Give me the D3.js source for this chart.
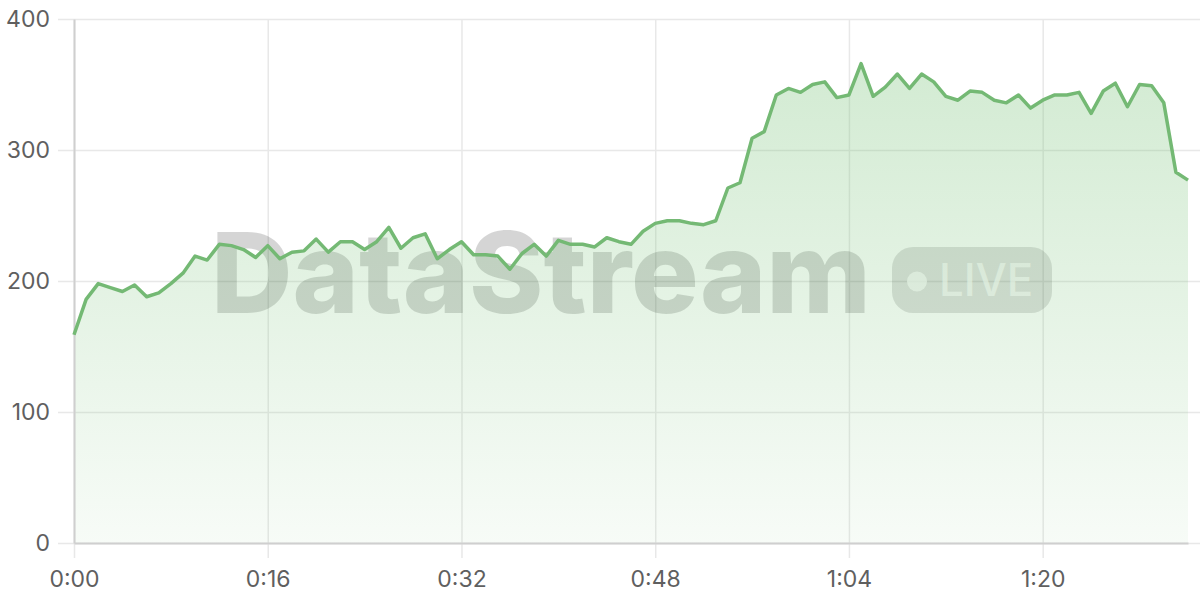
<!DOCTYPE html>
<html>
<head>
<meta charset="utf-8">
<script src="https://cdn.jsdelivr.net/npm/d3@7"></script>
<style>
  body { margin: 0; background: #fff; }
  svg { display: block; font-family: Inter, "Noto Sans", sans-serif; }
</style>
</head>
<body>
<svg id="chart" width="1200" height="600"></svg>
<script>
// minutes since start, one reading per minute
const minutes = d3.range(0, 93);
const viewers = [
  159, 186, 198, 195, 192, 197, 188, 191, 198, 206,
  219, 216, 228, 227, 224, 218, 227, 217, 222, 223,
  232, 222, 230, 230, 224, 230, 241, 225, 233, 236,
  217, 224, 230, 220, 220, 219, 209, 221, 228, 219,
  231, 228, 228, 226, 233, 230, 228, 238, 244, 246,
  246, 244, 243, 246, 271, 275, 309, 314, 342, 347,
  344, 350, 352, 340, 342, 366, 341, 348, 358, 347,
  358, 352, 341, 338, 345, 344, 338, 336, 342, 332,
  338, 342, 342, 344, 328, 345, 351, 333, 350, 349,
  336, 283, 277
];
const yTicks = [0, 100, 200, 300, 400];
const xTicks = [0, 16, 32, 48, 64, 80];

let w = 1200, h = 600;
let mLeft = 74, mRight = 1188, mTop = 19, mBottom = 543;

const svg = d3.select("#chart");

const x = d3.scaleLinear().domain([0, 92]).range([mLeft, mRight]);
const y = d3.scaleLinear().domain([0, 400]).range([mBottom, mTop]);

const fmt = m => Math.floor(m / 60) + ":" + String(m % 60).padStart(2, "0");

// gradient for the area
const grad = svg.append("defs").append("linearGradient")
  .attr("id", "fillGrad")
  .attr("x1", 0).attr("y1", 0).attr("x2", 0).attr("y2", 1);
grad.append("stop").attr("offset", "0%").attr("stop-color", "#7cc47c").attr("stop-opacity", 0.34);
grad.append("stop").attr("offset", "100%").attr("stop-color", "#7cc47c").attr("stop-opacity", 0.06);

// horizontal grid
svg.append("g")
  .attr("transform", `translate(${mLeft}, 0)`)
  .call(d3.axisLeft(y).tickValues(yTicks).tickSize(-(w - mLeft)).tickFormat(""))
  .call(g => g.select(".domain").remove())
  .call(g => g.selectAll("line").attr("stroke", "#e8e8e8").attr("stroke-width", 1.5).attr("x1", -16));

// vertical grid
svg.append("g")
  .attr("transform", `translate(0, ${mTop})`)
  .call(d3.axisTop(x).tickValues(xTicks).tickSize(-(mBottom - mTop + 15)).tickFormat(""))
  .call(g => g.select(".domain").remove())
  .call(g => g.selectAll("line").attr("stroke", "#e8e8e8").attr("stroke-width", 1.5));

// watermark
const wm = svg.append("g").attr("class", "watermark");
wm.append("text")
  .attr("x", 211).attr("y", 313)
  .attr("textLength", 660).attr("lengthAdjust", "spacingAndGlyphs")
  .attr("font-size", 112).attr("font-weight", 800)
  .attr("fill", "#000").attr("fill-opacity", 0.165)
  .text("DataStream");
wm.append("rect")
  .attr("x", 892).attr("y", 247).attr("width", 160).attr("height", 66).attr("rx", 21)
  .attr("fill", "#000").attr("fill-opacity", 0.13);
wm.append("circle")
  .attr("cx", 917).attr("cy", 281.5).attr("r", 10)
  .attr("fill", "#fff").attr("fill-opacity", 0.7);
wm.append("text")
  .attr("x", 939).attr("y", 296)
  .attr("font-size", 45).attr("font-weight", 500)
  .attr("textLength", 94).attr("lengthAdjust", "spacingAndGlyphs")
  .attr("fill", "#fff").attr("fill-opacity", 0.7)
  .text("LIVE");

// area + line
const area = d3.area()
  .x((d, i) => x(minutes[i]))
  .y0(y(0))
  .y1(d => y(d));
const line = d3.line()
  .x((d, i) => x(minutes[i]))
  .y(d => y(d));

svg.append("path")
  .datum(viewers)
  .attr("d", area)
  .attr("fill", "url(#fillGrad)");

// axes
svg.append("g")
  .attr("transform", `translate(${mLeft}, 0)`)
  .call(d3.axisLeft(y).tickValues(yTicks).tickSize(0).tickPadding(24))
  .call(g => g.select(".domain").attr("stroke", "#cfcfcf").attr("stroke-width", 2))
  .call(g => g.selectAll("text").attr("font-size", 23).attr("fill", "#5f5f5f").attr("font-family", "Inter, sans-serif"));

svg.append("g")
  .attr("transform", `translate(0, ${mBottom})`)
  .call(d3.axisBottom(x).tickValues(xTicks).tickSize(0).tickPadding(28).tickFormat(d => fmt(d)))
  .call(g => g.select(".domain").attr("stroke", "#cfcfcf").attr("stroke-width", 2))
  .call(g => g.selectAll("text").attr("font-size", 23).attr("fill", "#5f5f5f").attr("font-family", "Inter, sans-serif"));

svg.append("path")
  .datum(viewers)
  .attr("d", line)
  .attr("fill", "none")
  .attr("stroke", "#74b974")
  .attr("stroke-width", 3.5)
  .attr("stroke-linejoin", "round");
</script>
</body>
</html>
